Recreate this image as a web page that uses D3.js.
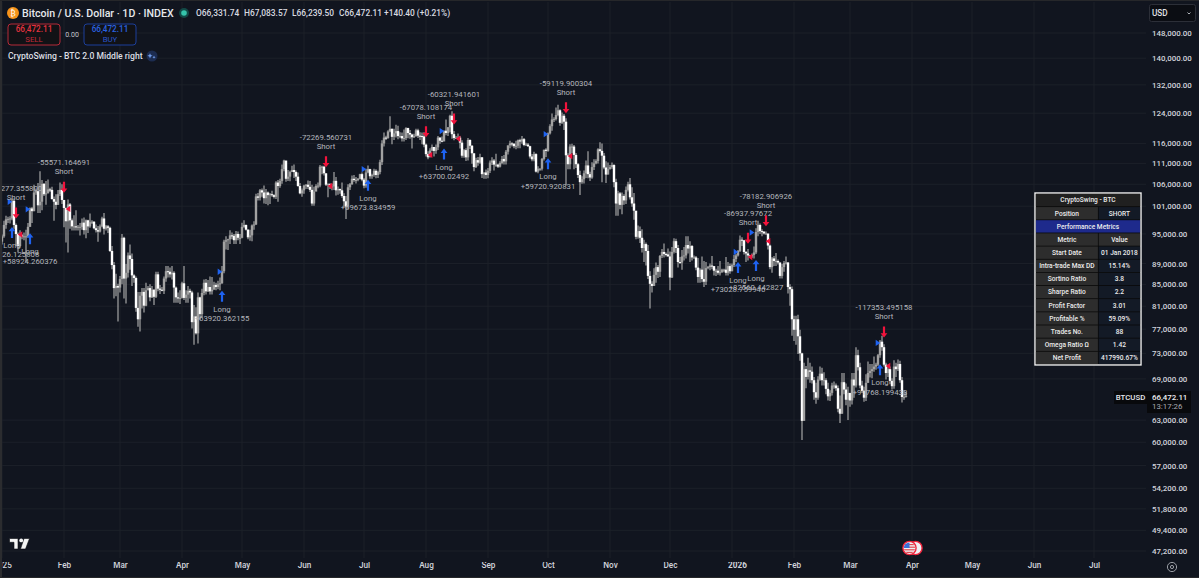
<!DOCTYPE html>
<html>
<head>
<meta charset="utf-8">
<script src="https://cdn.jsdelivr.net/npm/d3@7/dist/d3.min.js"></script>
<style>
html, body { margin: 0; padding: 0; background: #11151f; overflow: hidden; }
text { font-family: Roboto, "Noto Sans", sans-serif; }
</style>
</head>
<body>
<div class="canvas"></div>
<script>
// daily BTCUSD in thousands, one line per month, Jan 2025 to Mar 2026
const closes = [
  94.5,96.9,98.1,98.2,98.3,102.2,96.9,95.0,92.5,94.7,94.5,94.5,94.5,96.5,100.5,99.9,104.1,104.4,101.2,102.0,106.1,103.7,103.9,104.8,104.7,102.6,102.0,101.3,103.7,104.7,102.4,
  100.6,97.7,101.4,97.9,96.6,96.6,96.5,96.5,96.5,97.4,95.8,97.9,96.6,97.5,97.6,96.2,95.8,95.5,96.6,98.3,96.1,96.6,96.3,91.5,88.7,84.3,84.7,84.4,
  86.0,94.2,86.1,87.2,90.6,89.9,86.7,86.2,80.7,78.7,82.9,83.6,81.1,83.9,84.3,82.6,84.0,82.7,86.9,84.2,84.0,83.8,86.1,87.5,87.4,86.9,87.2,84.4,82.6,82.4,82.5,
  85.2,82.5,83.1,83.8,83.5,78.2,79.2,76.3,82.6,79.6,83.4,85.3,83.7,84.5,83.7,84.0,84.9,84.5,85.0,85.2,87.5,93.4,93.7,93.9,94.7,94.6,93.7,95.0,94.2,94.2,
  96.5,96.9,95.9,94.3,94.7,96.8,97.0,103.2,102.9,104.6,104.1,102.8,104.1,103.5,103.7,103.5,103.1,106.4,105.6,106.8,109.6,111.7,107.3,107.8,108.9,109.4,108.9,107.8,105.6,103.9,104.6,
  105.7,105.9,105.4,104.7,101.6,104.3,105.6,105.7,110.2,110.2,108.6,105.9,106.1,105.4,105.5,106.8,104.6,104.9,104.6,103.3,102.1,100.9,105.3,106.0,107.3,107.0,107.0,107.3,108.4,107.1,
  105.7,108.8,109.6,107.9,108.2,109.2,108.2,108.9,111.3,116.0,117.5,117.4,119.1,119.8,117.7,118.6,119.2,117.9,117.9,117.3,117.4,120.0,118.7,118.3,117.6,117.9,119.4,118.0,117.9,117.8,115.7,
  113.3,112.5,114.2,115.1,114.1,115.0,117.5,116.7,116.5,119.3,118.7,120.2,123.3,118.4,117.4,117.4,117.5,116.2,112.9,114.3,112.5,116.9,115.4,113.5,110.1,111.8,111.2,112.5,108.4,108.8,108.2,
  109.2,111.2,111.7,110.7,110.7,110.2,111.1,112.1,111.5,113.9,115.5,116.0,115.9,115.3,115.4,116.8,116.5,117.1,115.6,115.7,115.3,112.7,112.0,113.3,109.0,109.7,109.7,112.1,114.4,114.1,
  118.6,120.5,122.3,122.4,123.5,124.8,121.4,123.3,121.7,113.0,110.8,115.2,115.2,113.1,110.8,108.2,106.5,107.2,108.6,110.5,108.4,107.6,110.1,111.0,111.6,114.5,114.1,112.9,110.0,108.3,109.6,
  110.1,110.6,106.5,101.6,103.9,101.3,103.3,102.3,104.7,106.0,103.0,101.6,100.0,94.4,95.6,94.2,92.1,92.9,91.5,86.6,85.1,84.7,86.8,88.3,87.4,90.5,91.3,90.9,90.8,90.4,
  86.3,91.3,93.5,92.1,89.3,89.2,90.4,90.6,92.7,92.0,92.5,90.2,90.2,88.2,86.4,87.8,86.0,85.5,88.1,88.3,88.6,88.5,87.6,87.6,87.2,87.3,87.8,87.8,87.2,88.5,87.5,
  88.7,89.9,90.6,91.5,93.8,93.7,91.3,91.0,90.6,90.4,90.7,91.2,95.4,96.9,95.6,95.5,95.1,95.1,92.6,88.3,90.0,89.5,89.5,89.2,86.6,88.3,89.1,89.2,84.5,84.1,78.7,
  76.9,78.7,75.8,73.0,62.9,70.5,69.3,70.3,70.1,68.8,67.0,66.2,68.9,69.8,68.8,68.8,67.5,66.4,66.9,68.0,68.0,67.6,64.6,63.9,68.5,67.4,65.9,66.9,
  65.8,68.9,68.0,72.7,70.8,68.0,67.2,66.2,68.4,69.9,70.2,70.5,70.9,71.2,72.7,74.9,74.0,71.2,69.9,70.5,68.7,67.9,70.9,70.5,71.3,68.8,66.3,66.33,66.47
];
const highs = [
  94.9,97.8,98.9,98.7,98.8,102.7,102.7,97.2,95.3,95.8,95.0,95.3,95.9,97.3,100.7,100.8,105.9,105.0,106.3,109.1,107.0,106.3,106.8,107.1,105.2,105.4,103.2,103.7,104.7,106.4,106.0,
  102.0,100.7,102.5,101.7,98.3,99.0,100.1,96.9,97.3,98.3,98.5,98.1,98.0,99.4,97.9,97.7,97.0,96.7,97.0,98.7,99.5,96.9,96.9,96.5,92.5,89.3,87.0,85.1,
  86.6,95.0,94.4,88.9,91.2,92.8,91.0,86.9,86.5,83.6,83.6,84.3,84.3,85.3,84.7,85.0,84.7,84.1,87.4,87.4,84.9,84.5,86.5,88.5,88.5,88.2,88.5,87.5,84.6,83.5,83.9,
  85.5,88.5,83.9,84.7,84.2,83.8,81.2,80.8,83.5,82.7,84.2,85.9,86.0,85.8,86.5,86.4,85.5,85.3,85.7,86.3,88.5,93.8,94.5,94.0,95.8,95.3,95.0,95.6,95.5,95.0,
  97.4,97.9,97.0,96.0,95.9,97.0,97.7,103.8,104.0,104.9,105.0,105.7,104.9,104.3,104.0,104.5,103.7,106.7,107.0,107.3,110.7,111.9,111.6,109.4,109.2,110.4,110.7,109.3,108.8,106.3,105.0,
  105.9,106.0,106.9,106.8,105.9,105.4,106.0,106.4,110.6,110.4,110.4,108.6,106.2,106.2,106.1,108.9,107.7,105.5,105.0,106.4,103.9,103.3,106.0,106.3,108.1,108.2,107.7,107.5,108.5,108.8,
  107.5,109.7,110.5,109.7,108.5,109.7,109.6,109.2,111.9,116.8,118.8,118.0,119.4,123.2,119.9,119.8,120.9,120.6,118.9,118.8,119.6,120.2,120.1,119.5,118.5,118.5,119.8,119.8,118.9,118.8,118.9,
  116.0,114.0,114.8,115.7,115.1,115.7,117.9,117.6,117.8,119.3,122.3,120.3,123.6,124.5,119.2,117.9,118.6,117.9,116.8,114.6,114.8,117.4,117.0,115.6,113.5,112.4,112.6,113.4,112.6,108.8,109.5,
  109.9,111.7,112.5,112.1,113.4,110.9,111.5,112.8,113.1,114.3,115.5,116.7,116.3,116.1,116.7,117.0,117.2,117.9,117.4,116.2,116.1,115.4,113.3,113.9,113.5,110.3,109.8,112.3,114.4,114.8,
  118.8,121.0,123.9,122.9,125.6,126.3,125.1,124.2,123.8,122.6,113.5,115.8,115.9,115.6,113.6,111.1,109.2,107.9,109.3,111.7,114.0,109.0,111.3,112.0,112.0,114.8,116.3,116.0,113.6,111.5,111.2,
  110.6,111.2,110.8,107.3,104.5,104.2,104.1,103.7,105.5,106.6,107.5,105.3,104.0,99.8,96.8,96.6,96.0,93.8,93.2,92.7,87.5,85.6,88.1,89.2,88.7,90.7,91.9,93.0,91.2,92.0,
  91.4,92.3,94.1,94.0,92.7,90.3,91.7,92.3,94.5,94.5,93.5,92.7,90.6,90.5,90.1,88.1,90.4,89.5,89.3,88.5,89.0,90.5,88.0,88.0,88.5,89.5,88.0,88.0,90.3,89.3,89.0,
  89.0,90.7,90.9,91.7,94.7,94.3,93.6,91.5,91.9,90.7,91.0,92.4,96.2,97.8,97.2,96.0,95.5,95.5,93.4,92.8,90.3,90.5,91.1,89.8,89.2,88.9,89.5,90.4,89.3,85.0,84.6,
  79.3,79.3,79.5,76.9,73.1,71.5,71.0,72.3,71.5,70.9,69.3,68.4,69.4,70.9,70.7,70.0,69.1,68.4,67.3,68.4,68.6,68.3,68.0,66.5,69.9,69.9,68.3,67.8,
  66.9,69.9,69.9,74.0,73.6,71.5,68.7,67.8,69.7,71.7,71.3,71.3,72.5,71.5,72.9,75.2,75.9,74.5,71.5,71.2,70.9,69.1,71.9,71.5,72.0,71.8,69.3,67.3,67.08
];
const lows = [
  92.8,94.2,96.1,97.3,97.2,97.9,96.1,92.5,91.2,92.2,93.9,93.7,89.3,94.2,96.5,97.3,99.9,103.6,99.5,99.5,100.1,103.3,101.3,103.9,104.2,102.5,97.8,100.3,101.3,103.3,101.5,
  96.4,93.2,91.2,96.1,95.7,95.7,95.7,95.7,94.7,95.9,94.9,94.1,95.2,96.3,97.1,96.0,95.3,93.4,95.3,96.4,94.9,95.7,95.2,91.3,87.9,82.4,82.8,78.3,
  83.5,85.0,82.4,81.5,86.3,87.8,84.7,85.3,80.0,77.4,76.6,80.6,79.9,81.0,83.9,81.9,82.5,81.2,82.5,83.7,83.2,83.7,83.2,85.5,86.3,86.3,85.9,81.6,81.6,81.6,81.4,
  82.4,82.1,81.6,81.6,82.4,77.1,74.4,76.1,74.6,78.6,78.9,83.0,83.1,83.6,83.1,83.1,84.1,83.9,84.1,83.9,85.1,87.1,91.8,91.7,92.9,93.9,92.9,92.9,93.7,92.9,
  94.1,96.3,95.7,93.9,93.6,93.5,95.9,96.9,102.3,102.3,103.1,101.6,101.5,101.2,101.5,103.1,102.7,102.6,102.0,105.2,106.1,109.1,106.6,106.8,106.7,108.9,107.5,106.8,105.4,103.7,103.1,
  103.8,104.9,104.9,104.2,101.1,101.1,104.7,105.1,105.3,108.4,108.1,105.6,103.0,104.9,104.6,104.7,103.4,103.6,103.8,102.9,100.9,98.2,100.4,104.7,105.9,106.6,106.2,106.7,107.2,106.7,
  105.1,105.2,108.6,107.3,107.3,107.8,107.4,107.5,108.4,110.6,115.2,116.9,117.2,118.9,115.8,116.9,117.5,117.1,117.3,116.5,116.5,116.9,117.3,117.2,114.7,117.4,117.7,117.4,116.9,115.8,115.0,
  112.7,112.0,112.6,114.0,112.7,113.4,114.3,115.9,116.3,116.6,118.1,117.9,118.9,117.2,116.8,117.2,117.2,114.7,112.4,112.4,111.6,111.7,114.6,110.9,109.1,109.9,110.4,110.9,107.5,107.3,107.3,
  107.4,108.7,110.6,109.3,110.2,109.9,110.0,110.8,110.7,110.7,113.2,114.8,115.2,114.8,114.5,114.8,114.8,115.9,115.3,115.5,115.1,112.2,111.5,111.5,108.8,108.6,109.2,109.3,111.7,112.6,
  113.9,118.3,119.3,121.6,122.0,123.2,120.6,121.1,119.5,105.8,109.6,109.6,113.5,109.6,109.9,107.5,103.5,106.1,106.2,107.5,107.4,106.8,107.3,109.4,110.8,111.0,113.7,106.5,109.6,106.3,108.4,
  109.5,109.7,105.3,98.9,98.9,100.3,99.2,101.3,101.5,104.3,102.5,100.9,98.0,93.9,94.0,93.1,91.2,89.3,88.6,86.0,80.6,83.5,84.7,85.3,86.2,86.4,90.1,90.2,90.4,90.4,
  83.9,86.2,91.0,91.1,88.2,88.9,87.8,89.6,90.0,91.0,89.3,89.6,90.0,87.7,85.3,85.3,85.4,84.5,84.9,87.9,87.7,87.9,86.7,86.6,86.8,86.7,87.2,87.3,86.7,86.7,87.0,
  87.5,88.3,89.3,90.4,91.3,92.5,90.8,89.3,89.6,90.2,90.1,90.0,90.9,94.5,95.0,94.5,94.9,94.9,91.8,87.9,87.2,88.5,88.5,88.8,86.1,86.1,87.4,88.8,83.3,81.1,75.9,
  75.0,74.4,72.9,71.8,60.3,62.9,67.6,68.9,68.4,68.3,65.9,65.3,65.9,68.7,68.0,68.0,66.7,65.8,65.7,66.5,67.5,67.2,64.1,62.6,63.9,66.7,65.1,63.0,
  64.9,65.2,66.2,67.7,70.3,67.6,66.9,65.6,65.7,68.4,69.2,69.1,70.1,70.4,71.0,72.3,73.4,70.9,68.9,69.3,68.2,67.4,67.5,69.3,70.2,68.4,65.5,65.9,66.24
];
const firstOpen = 93.4;

const priceTicks = [148000,140000,132000,124000,116000,111000,106000,101000,95000,89000,85000,81000,77000,73000,69000,63000,60000,57000,54200,51800,49400,47200];

// [date, arrow price, label]
const shorts = [
  ["2025-01-08", 99500, "-67277.355800"],
  ["2025-02-01", 105300, "-55571.164691"],
  ["2025-06-12", 111400, "-72269.560731"],
  ["2025-08-01", 119000, "-67078.108174"],
  ["2025-08-15", 122400, "-60321.941601"],
  ["2025-10-10", 125500, "-59119.900304"],
  ["2026-01-09", 94100, "-86937.97672"],
  ["2026-01-18", 97800, "-78182.906926"],
  ["2026-03-18", 76500, "-117353.495158"]
];
const longs = [
  ["2025-01-06", 95300, "+68526.125808"],
  ["2025-01-15", 94000, "+58924.260376"],
  ["2025-04-21", 82800, "+63920.362155"],
  ["2025-07-03", 105800, "+69673.834959"],
  ["2025-08-10", 113300, "+63700.02492"],
  ["2025-10-01", 110900, "+59720.920831"],
  ["2026-01-04", 88200, "+73028.759946"],
  ["2026-01-13", 88600, "+82560.442827"],
  ["2026-03-16", 70400, "+91768.199433"]
];
const longEntries = [
  ["2025-01-05", 102000], ["2025-01-14", 100300], ["2025-04-20", 87400],
  ["2025-07-01", 109600], ["2025-08-09", 119200], ["2025-09-30", 118400],
  ["2026-01-03", 91300], ["2026-01-11", 95300], ["2026-03-15", 74700]
];
const shortExits = [
  ["2025-01-10", 94900], ["2025-02-03", 100400], ["2025-06-14", 105600],
  ["2025-08-03", 113100], ["2025-08-17", 117200], ["2025-10-12", 112800],
  ["2026-01-10", 90300], ["2026-01-19", 93500], ["2026-03-20", 71000]
];

const tableMetrics = ["Start Date","Intra-trade Max DD","Sortino Ratio","Sharpe Ratio","Profit Factor","Profitable %","Trades No.","Omega Ratio Ω","Net Profit"];
const tableValues = ["01 Jan 2018","15.14%","3.8","2.2","3.01","59.09%","88","1.42","417990.67%"];

const width = 1199, height = 578;
const bg = "#11151f", gridColor = "#1c2029", textColor = "#d1d4dc";

const svg = d3.select(".canvas").append("svg")
  .attr("width", width).attr("height", height)
  .style("display", "block");

const parse = d3.utcParse("%Y-%m-%d");
const x = d3.scaleUtc().domain([parse("2025-01-01"), parse("2026-07-01")]).range([2, 1094]);
const y = d3.scaleLog().domain([47200, 148000]).range([551, 33]);

const days = d3.utcDay.range(parse("2025-01-01"), parse("2026-03-30"));
const candles = days.map((d, i) => ({
  date: d,
  open: (i ? closes[i - 1] : firstOpen) * 1000,
  close: closes[i] * 1000,
  high: highs[i] * 1000,
  low: lows[i] * 1000
}));

svg.append("rect").attr("width", width).attr("height", height).attr("fill", bg);
svg.append("defs").append("clipPath").attr("id", "pane")
  .append("rect").attr("x", 2).attr("y", 0).attr("width", width).attr("height", height);

// grid
const monthTicks = x.ticks(d3.utcMonth.every(1));
const grid = svg.append("g");
grid.selectAll("line.h").data(priceTicks).join("line").attr("class", "h")
  .attr("x1", 2).attr("x2", 1146).attr("y1", d => y(d)).attr("y2", d => y(d))
  .attr("stroke", gridColor);
grid.selectAll("line.v").data(monthTicks).join("line").attr("class", "v")
  .attr("x1", d => x(d)).attr("x2", d => x(d)).attr("y1", 2).attr("y2", 558)
  .attr("stroke", gridColor);

// candles
const candle = svg.append("g").attr("clip-path", "url(#pane)")
  .selectAll("g").data(candles).join("g");
candle.append("line")
  .attr("x1", d => x(d.date)).attr("x2", d => x(d.date))
  .attr("y1", d => y(d.high)).attr("y2", d => y(d.low))
  .attr("stroke", "#a6a6a6").attr("stroke-width", 1.2);
candle.append("rect")
  .attr("x", d => x(d.date) - 1.2).attr("width", 2.4)
  .attr("y", d => y(Math.max(d.open, d.close)))
  .attr("height", d => Math.max(1, Math.abs(y(d.open) - y(d.close))))
  .attr("fill", d => d.close >= d.open ? "#a2a2a2" : "#ffffff");

// signal markers
const arrow = "M0,-5.5L3.4,-1.2L1.1,-1.2L1.1,5.5L-1.1,5.5L-1.1,-1.2L-3.4,-1.2Z";
const tri = "M-2.3,-3.2L2.3,0L-2.3,3.2Z";
const marks = svg.append("g").attr("clip-path", "url(#pane)");
const at = d => `translate(${x(parse(d[0]))},${y(d[1])})`;

marks.selectAll("path.se").data(shortExits).join("path").attr("class", "se")
  .attr("d", tri).attr("fill", "#f2133c")
  .attr("transform", d => at(d) + " rotate(180)");
marks.selectAll("path.le").data(longEntries).join("path").attr("class", "le")
  .attr("d", tri).attr("fill", "#1e62f0")
  .attr("transform", at);
marks.selectAll("path.s").data(shorts).join("path").attr("class", "s")
  .attr("d", arrow).attr("fill", "#f2133c")
  .attr("transform", d => at(d) + " rotate(180)");
marks.selectAll("path.l").data(longs).join("path").attr("class", "l")
  .attr("d", arrow).attr("fill", "#1e62f0")
  .attr("transform", at);

const labelColor = "#b4b6bc", labelSize = 7.8;
function signalText(sel, offset, fn) {
  sel.append("text")
    .attr("text-anchor", "middle").attr("dominant-baseline", "middle")
    .attr("y", offset).attr("font-size", labelSize).attr("fill", labelColor)
    .text(fn);
}
const shortLabels = marks.selectAll("g.sl").data(shorts).join("g").attr("class", "sl").attr("transform", at);
signalText(shortLabels, -24.3, d => d[2]);
signalText(shortLabels, -15, () => "Short");
const longLabels = marks.selectAll("g.ll").data(longs).join("g").attr("class", "ll").attr("transform", at);
signalText(longLabels, 13.6, () => "Long");
signalText(longLabels, 22.8, d => d[2]);

// axes
const yAxis = d3.axisRight(y).tickValues(priceTicks).tickSize(0).tickPadding(0)
  .tickFormat(d3.format(",.2f"));
const yg = svg.append("g").attr("transform", "translate(1152,0)").call(yAxis);
yg.select(".domain").remove();
yg.selectAll("text").attr("font-size", 7.9).attr("fill", textColor).attr("font-weight", 500)
  .style("font-family", "Roboto");

const monthName = d3.utcFormat("%b");
const xAxis = d3.axisBottom(x).tickValues(monthTicks).tickSize(0).tickPadding(0)
  .tickFormat(d => d.getUTCMonth() === 0 ? d.getUTCFullYear() : monthName(d));
const xg = svg.append("g").attr("transform", "translate(0,562)").attr("clip-path", "url(#pane)").call(xAxis);
xg.select(".domain").remove();
xg.selectAll("text").attr("font-size", 8.2).attr("fill", textColor).attr("font-weight", 500)
  .style("font-family", "Roboto")
  .filter(d => d.getUTCMonth() === 0 && d.getUTCFullYear() === 2026)
  .attr("dx", 5).attr("font-weight", 700);

// frame
svg.append("rect").attr("width", 2).attr("height", height).attr("fill", "#2b2c2f");
svg.append("rect").attr("width", width).attr("height", 1).attr("fill", "#26272a");
svg.append("rect").attr("y", height - 1).attr("width", width).attr("height", 1).attr("fill", "#26272a");

// header
const head = svg.append("g");
head.append("circle").attr("cx", 13).attr("cy", 13).attr("r", 6).attr("fill", "#f7931a");
head.append("text").attr("x", 13).attr("y", 13).attr("dy", "0.36em").attr("text-anchor", "middle")
  .attr("font-size", 8).attr("fill", "#fff").style("font-family", "DejaVu Sans").text("₿");
head.append("text").attr("x", 22).attr("y", 13).attr("dy", "0.36em")
  .attr("font-size", 10.6).attr("font-weight", 500).attr("fill", "#e6e8ec").text("Bitcoin / U.S. Dollar · 1D · INDEX");
head.append("circle").attr("cx", 184).attr("cy", 13).attr("r", 5).attr("fill", "#124a47");
head.append("circle").attr("cx", 184).attr("cy", 13).attr("r", 2.8).attr("fill", "#35c4ab");
const ohlc = ["O66,331.74", "H67,083.57", "L66,239.50", "C66,472.11", "+140.40 (+0.21%)"];
const ohlcX = [196, 244, 292, 339, 384];
head.selectAll("text.ohlc").data(ohlc).join("text").attr("class", "ohlc")
  .attr("x", (d, i) => ohlcX[i]).attr("y", 13).attr("dy", "0.36em")
  .attr("font-size", 8.4).attr("font-weight", 500).attr("fill", "#d8dae0").text(d => d);

function tradeBox(bx, stroke, top, bottom, word) {
  head.append("rect").attr("x", bx).attr("y", 24).attr("width", 52).attr("height", 21).attr("rx", 3)
    .attr("fill", "#111216").attr("stroke", stroke);
  head.append("text").attr("x", bx + 26).attr("y", 29.5).attr("dy", "0.36em").attr("text-anchor", "middle")
    .attr("font-size", 8.2).attr("font-weight", 500).attr("fill", top).text("66,472.11");
  head.append("text").attr("x", bx + 26).attr("y", 39).attr("dy", "0.36em").attr("text-anchor", "middle")
    .attr("font-size", 7.8).attr("fill", bottom).text(word);
}
tradeBox(8, "#b52a38", "#e5323f", "#c22b38", "SELL");
tradeBox(84, "#1c3f9a", "#2a62e0", "#2a55c8", "BUY");
head.append("text").attr("x", 72).attr("y", 34).attr("dy", "0.36em").attr("text-anchor", "middle")
  .attr("font-size", 7).attr("fill", "#c4c6cc").text("0.00");
head.append("text").attr("x", 8).attr("y", 56).attr("dy", "0.36em")
  .attr("font-size", 8.6).attr("font-weight", 500).attr("fill", "#dcdee3").text("CryptoSwing - BTC 2.0 Middle right");
head.append("circle").attr("cx", 152).attr("cy", 56).attr("r", 5.5).attr("fill", "#1c2c50");
head.append("path").attr("d", "M150,53.2l.8,1.8 1.8,.8 -1.8,.8 -.8,1.8 -.8,-1.8 -1.8,-.8 1.8,-.8Z M154,55.6l.5,1.1 1.1,.5 -1.1,.5 -.5,1.1 -.5,-1.1 -1.1,-.5 1.1,-.5Z")
  .attr("fill", "#6f9be8");

// usd dropdown
const usd = svg.append("g");
usd.append("rect").attr("x", 1149.5).attr("y", 4.5).attr("width", 46).attr("height", 17).attr("rx", 2)
  .attr("fill", "#0b0d13").attr("stroke", "#2c2f38");
usd.append("text").attr("x", 1152).attr("y", 13).attr("dy", "0.36em")
  .attr("font-size", 8.2).attr("font-weight", 500).attr("fill", "#e0e2e6").text("USD");
usd.append("path").attr("d", "M1187.5,12.5l1.5,1.5 1.5,-1.5").attr("fill", "none").attr("stroke", "#b0b3ba");

// last price
svg.append("rect").attr("x", 1114).attr("y", 391).attr("width", 33).attr("height", 13).attr("fill", "#08090c");
svg.append("text").attr("x", 1130.5).attr("y", 397.5).attr("dy", "0.36em").attr("text-anchor", "middle")
  .attr("font-size", 7.8).attr("font-weight", 500).attr("fill", "#e6e8ec").text("BTCUSD");
svg.append("rect").attr("x", 1147).attr("y", 391).attr("width", 44).attr("height", 22).attr("fill", "#08090c");
svg.append("text").attr("x", 1152).attr("y", 397).attr("dy", "0.36em")
  .attr("font-size", 7.9).attr("font-weight", 500).attr("fill", "#f0f1f4").text("66,472.11");
svg.append("text").attr("x", 1152).attr("y", 406).attr("dy", "0.36em")
  .attr("font-size", 7.9).attr("fill", "#a8abb2").text("13:17:26");

// performance table
const tableX = 1035.5, tableY = 193.5, rowH = 13.15, colA = 62.8, colB = 42.2;
const tableRows = [
  { span: "CryptoSwing - BTC", fill: "#202020" },
  { a: "Position", b: "SHORT", fa: "#2d2d2d", fb: "#131a26" },
  { span: "Performance Metrics", fill: "#1e2a8c" },
  { a: "Metric", b: "Value", fa: "#2d2d2d", fb: "#2d2d2d" }
].concat(tableMetrics.map((m, i) => ({ a: m, b: tableValues[i], fa: "#2d2d2d", fb: "#131a26" })));
const table = svg.append("g").attr("transform", `translate(${tableX},${tableY})`);
table.append("rect").attr("x", -0.5).attr("y", -0.5).attr("width", colA + colB + 1)
  .attr("height", rowH * tableRows.length + 1).attr("fill", "#0a0a0a")
  .attr("stroke", "#f2f2f2").attr("stroke-width", 1.4);
const tRow = table.selectAll("g").data(tableRows).join("g")
  .attr("transform", (d, i) => `translate(0,${i * rowH})`);
tRow.each(function(d) {
  const g = d3.select(this);
  function cell(cx, w, fill, txt) {
    g.append("rect").attr("x", cx + 0.4).attr("y", 0.4).attr("width", w - 0.8).attr("height", rowH - 0.8).attr("fill", fill);
    g.append("text").attr("x", cx + w / 2).attr("y", rowH / 2).attr("dy", "0.36em").attr("text-anchor", "middle")
      .attr("font-size", 6.6).attr("font-weight", 500)
      .attr("fill", "#ececec").text(txt);
  }
  if (d.span) cell(0, colA + colB, d.fill, d.span);
  else { cell(0, colA, d.fa, d.a); cell(colA, colB, d.fb, d.b); }
});

// tv logo
svg.append("path")
  .attr("d", "M9.5,538.5H18V549H14V542.3H9.5Z M24,538.5H29.5L25.5,549H20.5Z")
  .attr("fill", "#f4f4f4").attr("stroke", "#0a0c10").attr("stroke-width", 0.6);
svg.append("circle").attr("cx", 21.2).attr("cy", 540.4).attr("r", 1.9).attr("fill", "#f4f4f4");

// event badges
const events = svg.append("g");
events.append("circle").attr("cx", 915.5).attr("cy", 548).attr("r", 6.6).attr("fill", "#eef0f4").attr("stroke", "#f0243c").attr("stroke-width", 1.4);
events.append("circle").attr("cx", 909.5).attr("cy", 548).attr("r", 6.6).attr("fill", "#eef0f4").attr("stroke", "#f0243c").attr("stroke-width", 1.4);
events.append("clipPath").attr("id", "flag").append("circle").attr("cx", 909.5).attr("cy", 548).attr("r", 5.6);
const flag = events.append("g").attr("clip-path", "url(#flag)");
flag.selectAll("rect.st").data([0, 1, 2, 3]).join("rect").attr("class", "st")
  .attr("x", 903).attr("y", d => 544 + d * 2.6).attr("width", 14).attr("height", 1.2).attr("fill", "#e04a52");
flag.append("rect").attr("x", 903).attr("y", 542).attr("width", 6.5).attr("height", 6).attr("fill", "#3a6fd8");

// settings button
svg.append("circle").attr("cx", 1172).attr("cy", 567).attr("r", 4.6).attr("fill", "none").attr("stroke", "#9a9da4");
svg.append("circle").attr("cx", 1172).attr("cy", 567).attr("r", 1.6).attr("fill", "none").attr("stroke", "#9a9da4");
</script>
</body>
</html>
